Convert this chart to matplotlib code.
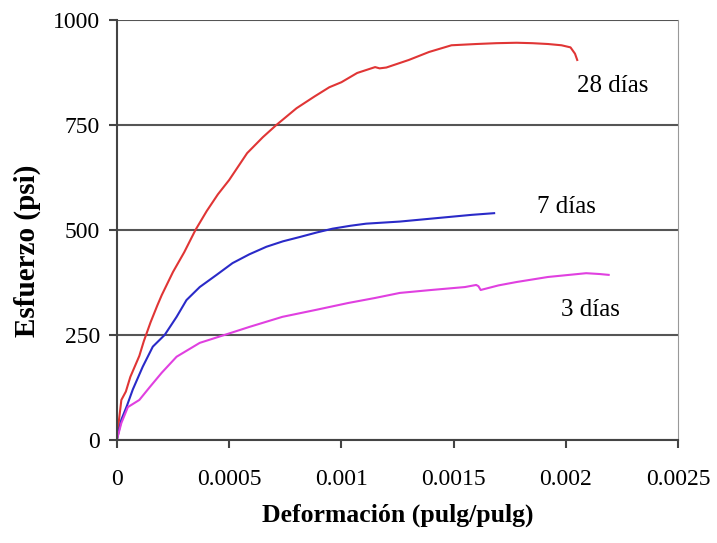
import matplotlib.pyplot as plt

# Curvas esfuerzo-deformacion (deformacion en pulg/pulg, esfuerzo en psi)
x_28 = [0, 0.00001, 0.00002, 0.00004, 0.00006, 0.00008, 0.0001, 0.00012, 0.00015,
        0.00018, 0.0002, 0.00025, 0.0003, 0.00035, 0.0004, 0.00045, 0.0005, 0.00058,
        0.00065, 0.00071, 0.0008, 0.00088, 0.000946, 0.001, 0.00107, 0.00115, 0.00117,
        0.0012, 0.0013, 0.00139, 0.00149, 0.0016, 0.00169, 0.00178, 0.00185, 0.00192,
        0.00198, 0.00202, 0.00204, 0.00205]
y_28 = [0, 50, 95, 115, 150, 175, 200, 235, 280,
        320, 345, 400, 447, 500, 545, 585, 619, 683,
        721, 750, 790, 818, 840, 852, 874, 888, 885,
        887, 905, 924, 940, 943, 945, 946, 945, 943,
        940, 935, 920, 905]

x_7 = [0, 0.00002, 0.000044, 0.000071, 0.000115, 0.00016, 0.000213, 0.000266, 0.00031,
       0.000369, 0.000444, 0.000515, 0.00059, 0.000666, 0.00074, 0.000813, 0.00089,
       0.00096, 0.00104, 0.00111, 0.00126, 0.00138, 0.00148, 0.00158, 0.00168]
y_7 = [0, 48, 80, 120, 174, 222, 250, 293, 333,
       364, 393, 421, 442, 460, 473, 483, 494,
       503, 510, 515, 520, 526, 531, 536, 540]

x_3 = [0, 0.00002, 0.000049, 0.0001, 0.000147, 0.0002, 0.000266, 0.000369, 0.00048,
       0.00059, 0.000737, 0.00089, 0.00103, 0.00115, 0.00126, 0.0014, 0.00155, 0.0016,
       0.00161, 0.00162, 0.0017, 0.00178, 0.00192, 0.00209, 0.00215, 0.00219]
y_3 = [0, 40, 78, 95, 126, 160, 198, 231, 250,
       269, 293, 310, 326, 338, 350, 357, 364, 369,
       366, 357, 368, 376, 388, 397, 395, 393]

etiquetas = ["28 días", "7 días", "3 días"]

plt.rcParams['font.family'] = ['Liberation Serif', 'DejaVu Serif']

fig = plt.figure(figsize=(7.17, 5.43), dpi=100)
ax = fig.add_axes([0.163, 0.19, 0.783, 0.773])

ax.plot(x_28, y_28, color='#e03535', lw=1.5)
ax.plot(x_7, y_7, color='#2a2ac8', lw=1.5)
ax.plot(x_3, y_3, color='#e040e0', lw=1.5)

ax.text(0.00221, 843, etiquetas[0], fontsize=18, ha='center', va='center')
ax.text(0.00200, 555, etiquetas[1], fontsize=18, ha='center', va='center')
ax.text(0.00211, 310, etiquetas[2], fontsize=18, ha='center', va='center')

ax.set_xlim(0, 0.0025)
ax.set_ylim(0, 1000)
ax.set_xticks([0, 0.0005, 0.001, 0.0015, 0.002, 0.0025])
ax.set_xticklabels(['0', '0.0005', '0.001', '0.0015', '0.002', '0.0025'])
ax.set_yticks([0, 250, 500, 750, 1000])

ax.grid(axis='y', color='#555555', lw=1.5)
ax.set_axisbelow(True)
for s in ['left', 'bottom']:
    ax.spines[s].set_color('#444444')
    ax.spines[s].set_linewidth(1.5)
ax.spines['right'].set_color('#999999')
ax.spines['top'].set_visible(False)

ax.tick_params(axis='both', labelsize=17, direction='out', length=6, width=1.5,
               color='#444444')
ax.tick_params(axis='x', pad=15)
ax.tick_params(axis='y', pad=6)

ax.set_xlabel('Deformación (pulg/pulg)', fontsize=18.5, fontweight='bold', labelpad=10)
ax.set_ylabel('Esfuerzo (psi)', fontsize=21, fontweight='bold')
ax.yaxis.set_label_coords(-0.135, 0.45)

fig.savefig('out.png', dpi=100)
